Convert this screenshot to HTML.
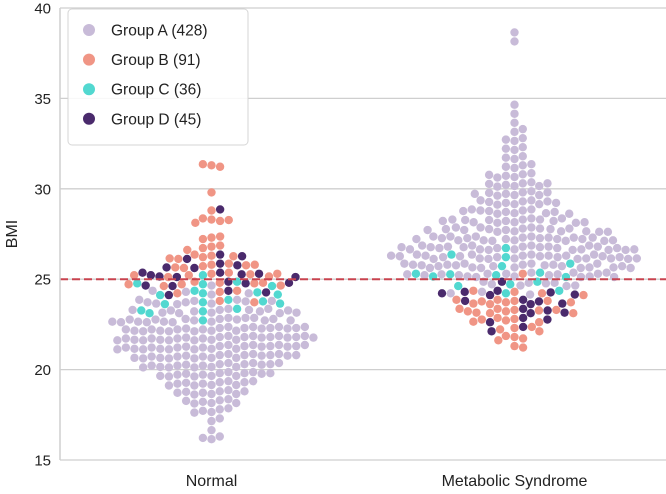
<!DOCTYPE html>
<html><head><meta charset="utf-8"><style>
body{margin:0;background:#fff;}
svg{display:block;font-family:"Liberation Sans","DejaVu Sans",sans-serif;}
</style></head><body>
<svg id="chart" width="666" height="494">
<g id="grid"></g><g id="marks"></g><g id="axes"></g><g id="legend"></g>
</svg>
<script>
// Bin starts (BMI, 0.5 width) and counts per group, per category
const categories = ["Normal", "Metabolic Syndrome"];
const groups = ["Group A (428)", "Group B (91)", "Group C (36)", "Group D (45)"];
const yTicks = [15, 20, 25, 30, 35, 40];
const threshold = 25;
const normalA = [[16,3],[16.5,1],[17,2],[17.5,5],[18,7],[18.5,9],[19,11],[19.5,14],[20,17],[20.5,20],[21,23],[21.5,24],[22,22],[22.5,19],[23,14],[23.5,10],[24,4],[24.5,1]];
const normalB = [[23.5,2],[24,3],[24.5,8],[25,8],[25.5,7],[26,6],[26.5,4],[27,3],[28,5],[28.5,1],[29.5,1],[31,3]];
const normalC = [[22.5,1],[23,4],[23.5,5],[24,5],[24.5,4],[25,1]];
const normalD = [[24,3],[24.5,5],[25,8],[25.5,4],[26,3],[28.5,1]];
const metA = [[24,3],[24.5,8],[25,18],[25.5,23],[26,26],[26.5,25],[27,22],[27.5,18],[28,15],[28.5,12],[29,10],[29.5,9],[30,8],[30.5,6],[31,4],[31.5,3],[32,3],[32.5,3],[33,2],[33.5,1],[34,1],[34.5,1],[38,1],[38.5,1]];
const metB = [[21,2],[21.5,4],[22,4],[22.5,6],[23,10],[23.5,9],[24,4],[25,1]];
const metC = [[24,2],[24.5,3],[25,6],[25.5,2],[26,2],[26.5,1]];
const metD = [[22,2],[22.5,3],[23,4],[23.5,5],[24,6],[24.5,1]];

const colors = ["#c8bbd8","#f09585","#52d8d0","#4a2a6c"];
const NS = "http://www.w3.org/2000/svg";
const L = 60, R = 666, T = 8, B = 460;
const y = v => T + (40 - v) / 25 * (B - T);
const xc = i => L + (R - L) * (i + 0.5) / categories.length;
function mk(tag, attrs, parent){const e=document.createElementNS(NS,tag);for(const k in attrs)e.setAttribute(k,attrs[k]);parent.appendChild(e);return e;}
const grid=document.getElementById('grid'), axes=document.getElementById('axes'), marks=document.getElementById('marks'), leg=document.getElementById('legend');

yTicks.forEach(t=>{
  const g=mk('line',{x1:L,x2:R,y1:y(t),y2:y(t),stroke:'#cfcfcf','stroke-width':1.3},grid);
  
  
  const tx=mk('text',{x:L-9,y:y(t)+5.5,'text-anchor':'end','font-size':15,fill:'#222'},axes);
  tx.textContent=t;
  
  
});
const sp=mk('line',{x1:L,x2:L,y1:T,y2:B,stroke:'#cfcfcf','stroke-width':1.5},axes);


const yl=mk('text',{x:0,y:0,transform:`translate(17,${(T+B)/2}) rotate(-90)`,'text-anchor':'middle','font-size':16,fill:'#222'},axes);
yl.textContent='BMI';


categories.forEach((c,i)=>{
  const t=mk('text',{x:xc(i),y:486,'text-anchor':'middle','font-size':16,fill:'#222'},axes);
  t.textContent=c;
  
  
});

const catData=[[normalA,normalB,normalC,normalD],[metA,metB,metC,metD]];
const D=8.7, r=4.2;
const sub=[0.15,0.3,0.22,0.36,0.12,0.27];
catData.forEach((gs,ci)=>{
  let pts=[];
  gs.forEach((bins,gi)=>bins.forEach(([b,n])=>{for(let k=0;k<n;k++)pts.push({v:b+sub[(k+gi)%sub.length],g:gi,k:k/n});}));
  pts.sort((a,b)=>Math.floor(a.v*2)-Math.floor(b.v*2)||a.k-b.k);
  const placed=[];
  pts.forEach(p=>{
    const py=y(p.v);
    const near=placed.filter(q=>Math.abs(q.y-py)<D);
    let cands=[0];
    near.forEach(q=>{const dx=Math.sqrt(D*D-(q.y-py)**2);cands.push(q.x+dx,q.x-dx);});
    cands.sort((a,b)=>Math.abs(a)-Math.abs(b));
    let px=0;
    for(const cx of cands){if(near.every(q=>(q.x-cx)**2+(q.y-py)**2>=D*D-0.01)){px=cx;break;}}
    placed.push({x:px,y:py,g:p.g});
  });
  placed.forEach(p=>{
    const c=mk('circle',{cx:xc(ci)+p.x,cy:p.y,r:r,fill:colors[p.g]},marks);
    
    
  });
});
const th=mk('line',{x1:L,x2:R,y1:y(threshold),y2:y(threshold),stroke:'#c8434f','stroke-width':2,'stroke-dasharray':'8,4'},marks);



const box=mk('rect',{x:68,y:9,width:180,height:136,rx:4,fill:'#fff','fill-opacity':0.85,stroke:'#d6d6d6'},leg);


groups.forEach((g,i)=>{
  const cy=30+i*29.6;
  const c=mk('circle',{cx:89,cy:cy,r:6,fill:colors[i]},leg);
  
  
  const t=mk('text',{x:111,y:cy+5.5,'font-size':15.5,fill:'#222'},leg);
  t.textContent=g;
  
  
});
</script>
</body></html>
